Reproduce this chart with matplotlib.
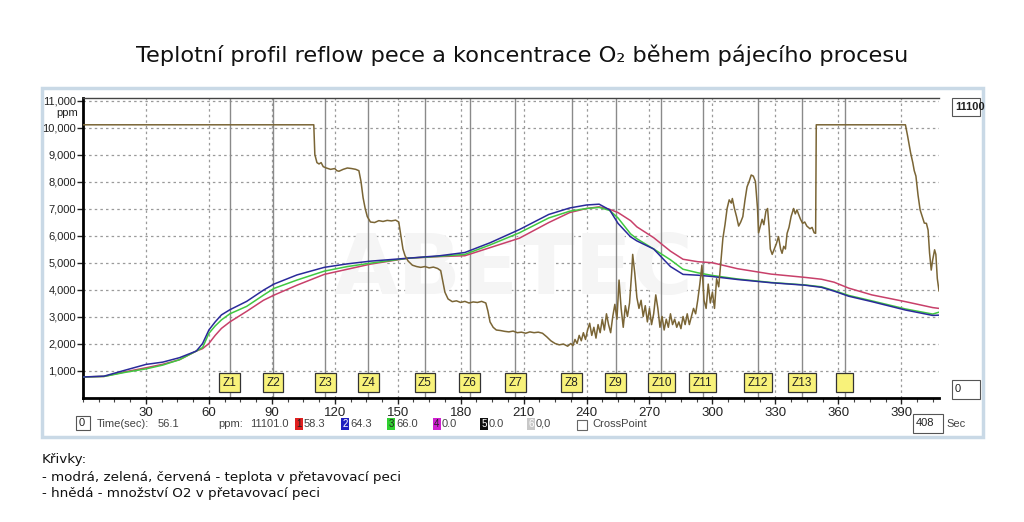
import matplotlib
matplotlib.use("Agg")
import matplotlib.pyplot as plt
import matplotlib.transforms as mtransforms
from matplotlib.patches import Rectangle
from matplotlib.ticker import MultipleLocator, FuncFormatter

W, H = 1024, 522
UI_FONT = ['Liberation Sans', 'DejaVu Sans']

# ---- values ----
temp_t = [0, 10, 20, 30, 38, 46, 54, 57, 60, 63, 66, 70, 78, 86, 91, 102, 115, 126,
          137, 155, 170, 182, 194, 208, 222, 232, 240, 246, 251, 255, 261, 264, 272,
          280, 286, 293, 300, 312, 328, 344, 352, 358, 365, 376, 392, 405, 408]
blue_val = [760, 790, 1010, 1225, 1310, 1475, 1720, 2000, 2500, 2800, 3060, 3250, 3560,
            3975, 4200, 4540, 4820, 4950, 5050, 5160, 5250, 5370, 5730, 6220, 6780, 7020,
            7130, 7160, 6950, 6450, 5950, 5800, 5500, 4850, 4560, 4530, 4480, 4370, 4250,
            4160, 4080, 3940, 3750, 3550, 3240, 3040, 3050]
green_val = [760, 780, 930, 1060, 1200, 1400, 1720, 1850, 2375, 2650, 2875, 3100, 3375,
             3790, 4040, 4350, 4680, 4850, 4975, 5160, 5230, 5300, 5650, 6100, 6650, 6900,
             7000, 7040, 6930, 6650, 6060, 5880, 5500, 5100, 4750, 4620, 4520, 4390, 4260,
             4170, 4100, 3960, 3780, 3580, 3280, 3090, 3160]
red_val = [760, 780, 950, 1100, 1230, 1400, 1720, 1810, 2000, 2300, 2560, 2800, 3190,
           3600, 3790, 4160, 4560, 4750, 4940, 5160, 5220, 5250, 5550, 5900, 6480, 6850,
           7000, 7060, 6970, 6850, 6550, 6320, 5920, 5420, 5120, 5030, 4990, 4770, 4570,
           4450, 4380, 4270, 4050, 3800, 3550, 3330, 3300]

o2_t = [0, 110, 110.5, 111.5, 112.5, 113.5, 114.5, 116, 118, 120, 121, 122, 124, 126, 128,
        130, 131.5, 132.5, 133.5, 134.5, 135.5, 137, 139, 141, 143, 145, 147, 149, 150.5,
        151.5, 152.5, 153.5, 155, 157, 159, 161, 163, 165, 167, 169, 170.5, 171.5, 172.5,
        174, 176, 178, 180, 182, 184, 186, 188, 190, 192, 193, 194, 195.5, 197, 199, 201,
        203, 205, 207, 209, 211, 213, 215, 217, 219, 221, 223, 225, 227, 229, 231, 232.5,
        233.5, 234.5, 235.5, 236.5, 237.5, 238.5, 239.5, 240.5, 241.5, 242.5, 243.5, 244.5,
        245.5, 246.5, 247.5, 248.5, 249.5, 250.5, 251.5, 252.5, 253.5, 254.5, 255.5, 256.5,
        257.5, 258.5, 259.5, 260.5, 261.5, 262, 263, 264, 265, 266, 267, 268, 269, 270, 271,
        272, 273, 274, 275, 276, 277, 278, 279, 280, 281, 282, 283, 284, 285, 286, 287, 288,
        289, 290, 291, 292, 293, 294, 295, 296, 297, 298, 299, 300, 301, 302, 303, 304, 305,
        306, 307, 308, 309, 309.5, 310.5, 311.5, 312.5, 313.5, 314.5, 315.5, 316.5, 317.5,
        318.5, 319.5, 320.5, 321.5, 322, 323, 323.7, 324.5, 325.5, 326.3, 327, 327.6, 328.5,
        329.5, 330.5, 331.5, 332.5, 333.2, 334, 334.8, 335.6, 336.5, 337.5, 338.7, 339.5,
        340.3, 341, 342, 343, 344, 345, 346.5, 347.5, 348.5, 349.2, 349.5, 392, 393, 394.5,
        395.5, 396.2, 397, 398, 399, 400, 401, 402, 402.8, 403.5, 404.3, 405, 405.9, 406.5,
        407.2, 408]
o2_ppm = [10100, 10100, 9000, 8700, 8650, 8700, 8550, 8500, 8450, 8480, 8400, 8380, 8450,
          8500, 8480, 8450, 8400, 8000, 7400, 7000, 6700, 6500, 6480, 6550, 6520, 6560, 6540,
          6570, 6500, 6000, 5500, 5250, 5050, 4900, 4850, 4820, 4850, 4800, 4830, 4780, 4700,
          4300, 3900, 3650, 3550, 3580, 3520, 3560, 3500, 3540, 3520, 3560, 3500, 3200, 2800,
          2600, 2500, 2480, 2450, 2430, 2460, 2400, 2420, 2380, 2430, 2400, 2420, 2380, 2250,
          2100, 2000, 1950, 1980, 1900, 2000, 1920, 2150, 2000, 2300, 2100, 2400, 2150, 2500,
          2750, 2300, 2600, 2200, 2700, 2400, 2900, 2500, 3100, 2700, 2400, 3000, 3450, 2900,
          4350, 3300, 2600, 3400, 3000, 3500, 4600, 5300, 4600, 3700, 3300, 3600, 3000, 3400,
          2800, 3300, 2700, 3100, 3800, 3300, 2600, 3000, 2500, 2900, 2600, 3100, 2700, 2900,
          2600, 2800, 2550, 3000, 2700, 3100, 2700, 3000, 3300, 3100, 3600, 4200, 4900, 3600,
          3300, 4200, 3500, 3900, 3300, 4400, 4100, 5000, 5900, 6400, 7000, 7320, 7200, 7370,
          7000, 6700, 6350, 6500, 6700, 7300, 7800, 8000, 8240, 8200, 8000, 7000, 6100, 6400,
          6600, 6400, 6900, 7000, 6300, 5500, 5300, 5500, 5700, 5960, 5500, 5340, 5600, 5500,
          6080, 6300, 6700, 7000, 6800, 6950, 6800, 6600, 6450, 6500, 6350, 6250, 6300, 6100,
          6080, 10100, 10100, 9700, 9050, 8700, 8400, 8200, 7500, 6950, 6700, 6460, 6450, 6200,
          5350, 4720, 5100, 5470, 5300, 4400, 3950]

zone_names = ['Z1', 'Z2', 'Z3', 'Z4', 'Z5', 'Z6', 'Z7', 'Z8', 'Z9', 'Z10', 'Z11', 'Z12', 'Z13', '']
zone_pos = [70, 90.6, 115.4, 136, 163, 184.3, 206, 233, 254, 275.7, 295.4, 321.7, 342.7, 363]

x_ticks = list(range(30, 391, 30))
y_ticks = list(range(1000, 11001, 1000))

channel_ids = ['1', '2', '3', '4', '5', '6']
channel_vals = ['58.3', '64.3', '66.0', '0.0', '0.0', '0,0']
channel_cols = ['#e02020', '#2020c0', '#30d030', '#d020d0', '#111111', '#c8c8c8']
channel_x = [295, 341, 387, 433, 480, 527]


def fx(x):
    return x / W


def fy(y):
    return 1 - y / H


fig = plt.figure(figsize=(W / 100, H / 100), dpi=100)
fig.patch.set_facecolor('white')

# window frame of the oven software
fig.patches.append(Rectangle((fx(42), fy(437)), (983 - 42) / W, (437 - 88) / H,
                             transform=fig.transFigure, fill=False,
                             edgecolor='#c9d9e6', lw=2.5, zorder=-1))

ax = fig.add_axes([fx(83), fy(397.5), (939 - 83) / W, 299.7 / H])
ax.set_xlim(0, 408)
ax.set_ylim(0, 11100)

ax.grid(True, which='major', linestyle=(0, (2, 2.5)), color='#9a9a9a', lw=0.9)
ax.set_axisbelow(True)

for zp in zone_pos:
    ax.axvline(zp, color='#8a8a8a', lw=1.0, zorder=1.5)

# faint watermark
ax.text(205, 4700, 'ABETEC', fontsize=60, color='#f5f5f5', ha='center', va='center',
        zorder=1.2, fontweight='bold')

ax.plot(temp_t, red_val, color='#c8406a', lw=1.1, zorder=3)
ax.plot(temp_t, green_val, color='#40c840', lw=1.1, zorder=3)
ax.plot(temp_t, blue_val, color='#2a2a9a', lw=1.1, zorder=3)
ax.plot(o2_t, o2_ppm, color='#7a6535', lw=1.1, zorder=4)

for name, zp in zip(zone_names, zone_pos):
    ax.text(zp, 540, name if name else '   ', fontsize=8.5, ha='center', va='center',
            color='#222', zorder=5, family=UI_FONT,
            bbox=dict(boxstyle='square,pad=0.3', fc='#f8f27a', ec='#333', lw=0.9))

ax.set_xticks(x_ticks)
ax.set_yticks(y_ticks)
ax.xaxis.set_minor_locator(MultipleLocator(7.5))
ax.yaxis.set_major_formatter(FuncFormatter(lambda v, p: f'{int(v):,}'))
ax.tick_params(axis='x', which='major', length=4, width=1, labelsize=9.5,
               colors='#222', pad=3)
ax.tick_params(axis='x', which='minor', length=3, width=0.8, color='#444')
ax.tick_params(axis='y', which='major', length=4, width=1, labelsize=8,
               colors='#222', pad=1)
for lab in ax.get_xticklabels() + ax.get_yticklabels():
    lab.set_family(UI_FONT)

ax.spines['left'].set_linewidth(2)
ax.spines['bottom'].set_linewidth(2)
ax.spines['top'].set_linewidth(1)
ax.spines['top'].set_color('#444')
ax.spines['right'].set_visible(False)

fig.text(fx(78), fy(113), 'ppm', fontsize=8, ha='right', va='center', color='#222',
         family=UI_FONT)

# title
fig.text(0.51, fy(55), 'Teplotní profil reflow pece a koncentrace O₂ během pájecího procesu',
         fontsize=16.2, ha='center', va='center', color='#111')


# status bar
def box_text(x, y, s, w, h, **kw):
    fig.patches.append(Rectangle((fx(x), fy(y + h)), w / W, h / H,
                                 transform=fig.transFigure, fill=False,
                                 edgecolor='#555', lw=0.8))
    fig.text(fx(x + 3), fy(y + h / 2), s, ha='left', va='center', fontsize=8,
             color='#222', family=UI_FONT, **kw)


box_text(76, 416, '0', 14, 14)
box_text(952, 98, '11100', 28, 18, fontweight='bold')
box_text(952, 380, '0', 28, 19)
box_text(913, 414, '408', 30, 19)


def status(x, s, size=8, color='#444'):
    fig.text(fx(x), fy(424), s, fontsize=size, ha='left', va='center', color=color,
             family=UI_FONT)


status(946, 'Sec')
status(97, 'Time(sec):')
status(158, '56.1')
status(218, 'ppm:')
status(250, '11101.0')

for cid, cval, ccol, cx in zip(channel_ids, channel_vals, channel_cols, channel_x):
    fig.patches.append(Rectangle((fx(cx), fy(430)), 8 / W, 12 / H,
                                 transform=fig.transFigure, fc=ccol, ec='none'))
    txtcol = 'white' if ccol in ('#111111', '#2020c0', '#c8c8c8') else '#222'
    fig.text(fx(cx + 4), fy(424), cid, fontsize=7, ha='center', va='center', color=txtcol,
             family=UI_FONT)
    status(cx + 9, cval)

fig.patches.append(Rectangle((fx(577), fy(430)), 10 / W, 10 / H,
                             transform=fig.transFigure, fill=False, ec='#666', lw=0.8))
status(592, 'CrossPoint')

# notes below the chart
notes = ['Křivky:',
         '- modrá, zelená, červená - teplota v přetavovací peci',
         '- hnědá - množství O2 v přetavovací peci']
for i, line in enumerate(notes):
    fig.text(fx(42), fy(460 + 17 * i), line, fontsize=9.7, ha='left', va='center', color='#111')

fig.savefig('out.png', dpi=100, facecolor='white')
